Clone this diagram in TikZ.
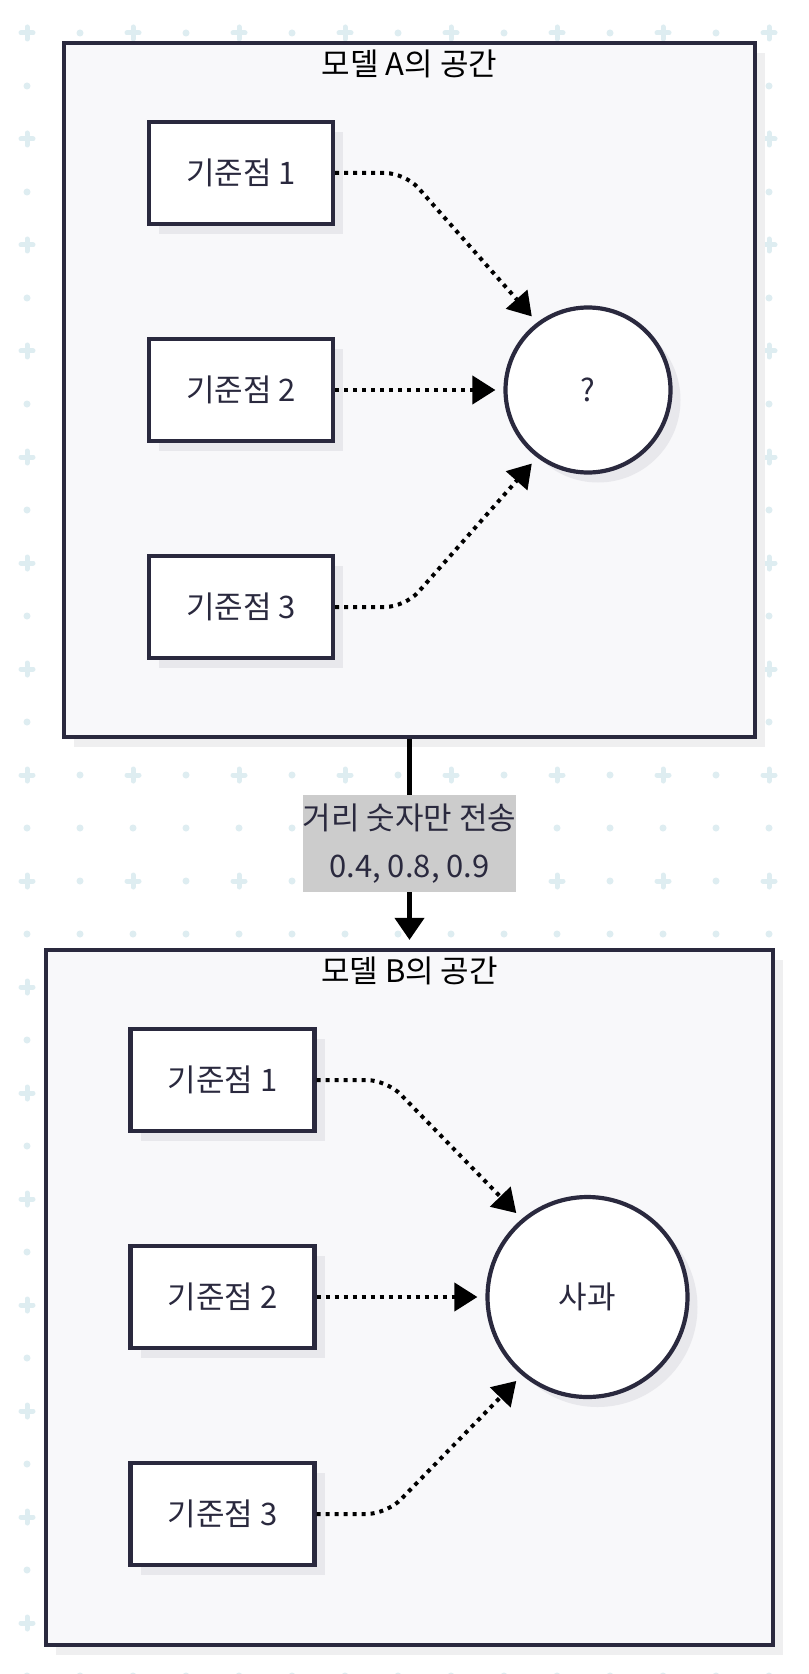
\documentclass[tikz,border=0pt]{standalone}
\usepackage{fontspec}
\setmainfont{Noto Sans CJK KR}
\usetikzlibrary{arrows.meta,shadows}
\definecolor{ink}{RGB}{42,41,62}
\definecolor{paper}{RGB}{248,248,250}
\definecolor{dotblue}{RGB}{222,237,241}
\definecolor{boxshade}{RGB}{232,232,236}
\definecolor{spaceshade}{RGB}{239,239,240}
\definecolor{msggray}{RGB}{204,204,204}

\begin{document}
\begin{tikzpicture}[x=0.5pt, y=-0.5pt, node distance=108.5pt,
	every node/.style = {font=\fontsize{15.5pt}{18pt}\selectfont, text=ink},
	space/.style = {draw=ink, line width=2.1pt, fill=paper,
		general shadow={fill=spaceshade, shadow xshift=5pt, shadow yshift=-5pt}},
	point/.style = {draw=ink, line width=2.1pt, fill=white, minimum width=92pt, minimum height=51pt,
		general shadow={fill=boxshade, shadow xshift=5pt, shadow yshift=-5pt}},
	target/.style = {circle, draw=ink, line width=2.1pt, fill=white,
		general shadow={fill=boxshade, shadow xshift=5pt, shadow yshift=-5pt}},
	title/.style = {text=black},
	msg/.style = {fill=msggray, align=center, inner xsep=0pt, inner ysep=4.5pt, minimum width=106.5pt,
		font=\fontsize{15.5pt}{24pt}\selectfont}]
	\tikzset{link/.style = {-{Triangle[length=11.5pt,width=14pt]}, line width=2pt,
			dash pattern=on 2pt off 2.5pt, shorten >=4pt, rounded corners=10pt},
		flow/.style = {-{Triangle[length=11pt,width=14.5pt]}, line width=2.1pt, shorten >=4pt}}
	
	% background grid
	\fill[white] (0,0) rectangle (808,1674);
	\useasboundingbox (0,0) rectangle (808,1674);
	\foreach \i in {0,...,14}
		\foreach \j in {0,...,31} {
			\coordinate (g) at (27+53*\i, 33+53*\j);
			\pgfmathtruncatemacro\k{mod(\i,2)+mod(\j,2)}
			\ifnum\k=0
				\draw[dotblue, line width=2.5pt, line cap=round] ([xshift=-3pt]g) -- ([xshift=3pt]g) ([yshift=-3pt]g) -- ([yshift=3pt]g);
			\else
				\fill[dotblue] (g) circle (3.5);
			\fi
		}
	
	% model A
	\node[space, minimum width=345.5pt, minimum height=347pt] (spaceA) at (409.5,390) {};
	\node[title] (titleA) at ([yshift=-11.5pt]spaceA.north) {모델 A의 공간};
	\node[point] (a1) at (241,173) {기준점 1};
	\node[point] (a2) [below of=a1] {기준점 2};
	\node[point] (a3) [below of=a2] {기준점 3};
	\node[target, minimum size=82.5pt] (qa) [right of=a2, node distance=173.5pt] {?};
	
	\draw[link] (a1.east) -- ++(70,0) -- (qa.127.5);
	\draw[link] (a2) -- (qa);
	\draw[link] (a3.east) -- ++(70,0) -- (qa.-127.5);
	
	% model B
	\node[space, minimum width=363.5pt, minimum height=347.5pt] (spaceB) at (409.5,1297.5) {};
	\node[title] (titleB) at ([yshift=-11.5pt]spaceB.north) {모델 B의 공간};
	\node[point] (b1) at (222.5,1080) {기준점 1};
	\node[point] (b2) [below of=b1] {기준점 2};
	\node[point] (b3) [below of=b2] {기준점 3};
	\node[target, minimum size=100pt] (apple) [right of=b2, node distance=182.5pt] {사과};
	
	\draw[link] (b1.east) -- ++(70,0) -- (apple.130.8);
	\draw[link] (b2) -- (apple);
	\draw[link] (b3.east) -- ++(70,0) -- (apple.-130.8);
	
	\draw[flow] (spaceA) -- node[msg] {거리 숫자만 전송\\0.4, 0.8, 0.9} (spaceB);
\end{tikzpicture}
\end{document}
